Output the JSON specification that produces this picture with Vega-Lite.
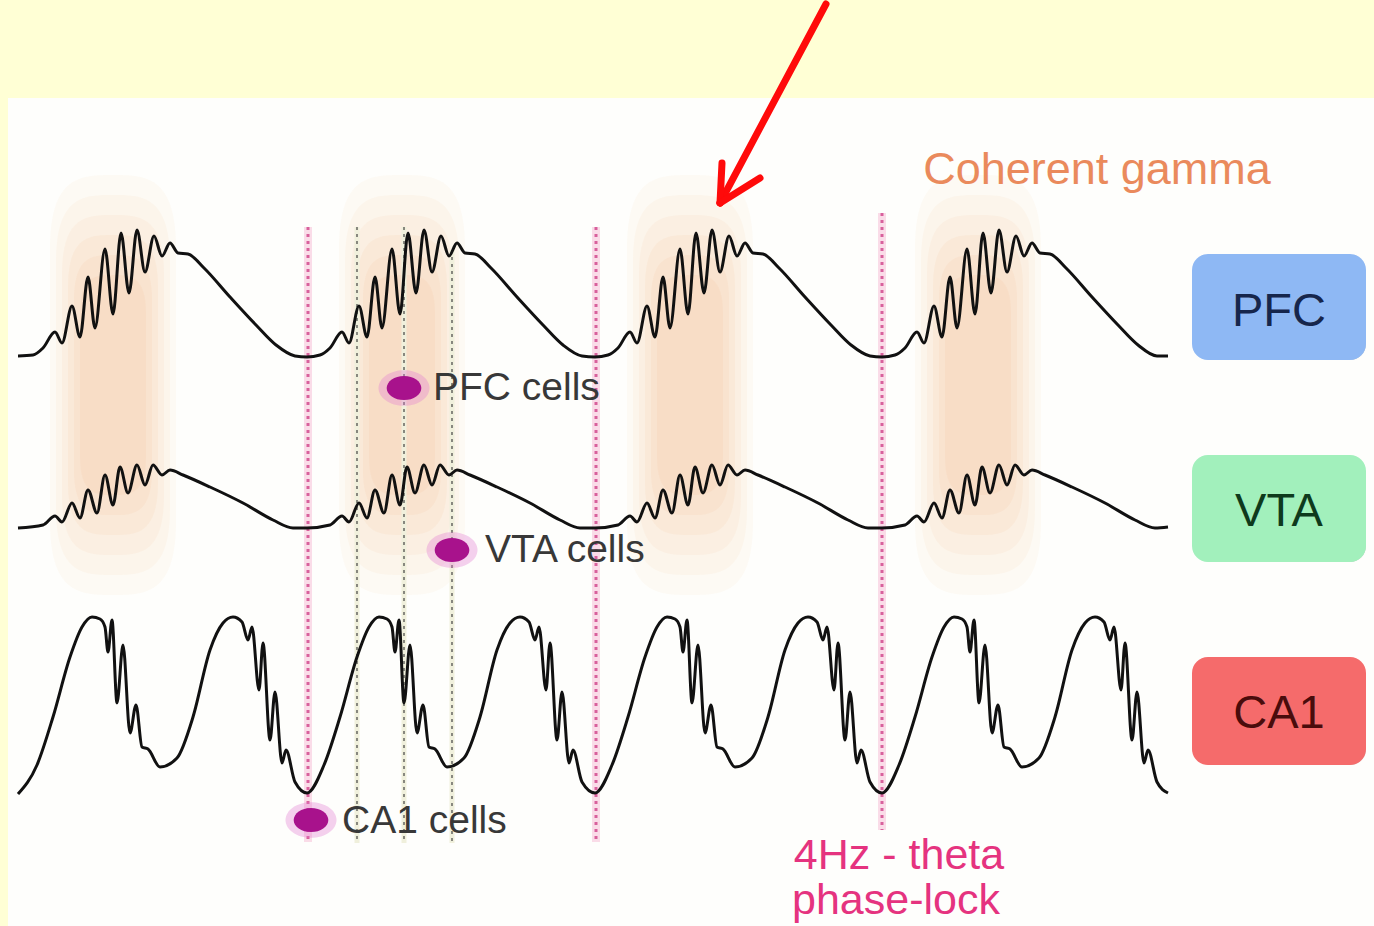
{
  "$schema": "https://vega.github.io/schema/vega-lite/v6.json",
  "width": 1374,
  "height": 926,
  "padding": 0,
  "autosize": {"type": "fit", "contains": "padding"},
  "background": "#FFFFD5",
  "config": {"view": {"stroke": null}},
  "datasets": {
    "panel": [{"x": 8, "x2": 1374, "y": 98, "y2": 926}],
    "blobs": [{"x": 113, "y": 385}, {"x": 402, "y": 385}, {"x": 690, "y": 385}, {"x": 978, "y": 385}],
    "pinklines": [{"x": 308, "y": 227, "y2": 842}, {"x": 596, "y": 227, "y2": 842}, {"x": 882, "y": 213, "y2": 830}],
    "graylines": [{"x": 357, "y": 227, "y2": 843}, {"x": 404, "y": 227, "y2": 843}, {"x": 452, "y": 250, "y2": 843}],
    "waves": [
      {"s": "PFC", "x": 18, "y": 356}, {"s": "PFC", "x": 33, "y": 355}, {"s": "PFC", "x": 43, "y": 348}, {"s": "PFC", "x": 55, "y": 332}, {"s": "PFC", "x": 62, "y": 343}, {"s": "PFC", "x": 72, "y": 306}, {"s": "PFC", "x": 80, "y": 337}, {"s": "PFC", "x": 88, "y": 277}, {"s": "PFC", "x": 95, "y": 328}, {"s": "PFC", "x": 105, "y": 249}, {"s": "PFC", "x": 113, "y": 314}, {"s": "PFC", "x": 121, "y": 233}, {"s": "PFC", "x": 129, "y": 293}, {"s": "PFC", "x": 137, "y": 230}, {"s": "PFC", "x": 145, "y": 272}, {"s": "PFC", "x": 154, "y": 236}, {"s": "PFC", "x": 162, "y": 256}, {"s": "PFC", "x": 170, "y": 243}, {"s": "PFC", "x": 178, "y": 253}, {"s": "PFC", "x": 188, "y": 254}, {"s": "PFC", "x": 204, "y": 268}, {"s": "PFC", "x": 230, "y": 297}, {"s": "PFC", "x": 256, "y": 325}, {"s": "PFC", "x": 276, "y": 345}, {"s": "PFC", "x": 295, "y": 356},
      {"s": "PFC", "x": 307, "y": 357}, {"s": "PFC", "x": 320, "y": 355}, {"s": "PFC", "x": 330, "y": 348}, {"s": "PFC", "x": 342, "y": 332}, {"s": "PFC", "x": 349, "y": 343}, {"s": "PFC", "x": 359, "y": 306}, {"s": "PFC", "x": 367, "y": 337}, {"s": "PFC", "x": 375, "y": 277}, {"s": "PFC", "x": 382, "y": 328}, {"s": "PFC", "x": 392, "y": 249}, {"s": "PFC", "x": 400, "y": 314}, {"s": "PFC", "x": 408, "y": 233}, {"s": "PFC", "x": 416, "y": 293}, {"s": "PFC", "x": 424, "y": 230}, {"s": "PFC", "x": 432, "y": 272}, {"s": "PFC", "x": 441, "y": 236}, {"s": "PFC", "x": 449, "y": 256}, {"s": "PFC", "x": 457, "y": 243}, {"s": "PFC", "x": 465, "y": 253}, {"s": "PFC", "x": 475, "y": 254}, {"s": "PFC", "x": 491, "y": 268}, {"s": "PFC", "x": 517, "y": 297}, {"s": "PFC", "x": 543, "y": 325}, {"s": "PFC", "x": 563, "y": 345}, {"s": "PFC", "x": 582, "y": 356},
      {"s": "PFC", "x": 595, "y": 357}, {"s": "PFC", "x": 608, "y": 355}, {"s": "PFC", "x": 618, "y": 348}, {"s": "PFC", "x": 630, "y": 332}, {"s": "PFC", "x": 637, "y": 343}, {"s": "PFC", "x": 647, "y": 306}, {"s": "PFC", "x": 655, "y": 337}, {"s": "PFC", "x": 663, "y": 277}, {"s": "PFC", "x": 670, "y": 328}, {"s": "PFC", "x": 680, "y": 249}, {"s": "PFC", "x": 688, "y": 314}, {"s": "PFC", "x": 696, "y": 233}, {"s": "PFC", "x": 704, "y": 293}, {"s": "PFC", "x": 712, "y": 230}, {"s": "PFC", "x": 720, "y": 272}, {"s": "PFC", "x": 729, "y": 236}, {"s": "PFC", "x": 737, "y": 256}, {"s": "PFC", "x": 745, "y": 243}, {"s": "PFC", "x": 753, "y": 253}, {"s": "PFC", "x": 763, "y": 254}, {"s": "PFC", "x": 779, "y": 268}, {"s": "PFC", "x": 805, "y": 297}, {"s": "PFC", "x": 831, "y": 325}, {"s": "PFC", "x": 851, "y": 345}, {"s": "PFC", "x": 870, "y": 356},
      {"s": "PFC", "x": 882, "y": 357}, {"s": "PFC", "x": 895, "y": 355}, {"s": "PFC", "x": 905, "y": 348}, {"s": "PFC", "x": 917, "y": 332}, {"s": "PFC", "x": 924, "y": 343}, {"s": "PFC", "x": 934, "y": 306}, {"s": "PFC", "x": 942, "y": 337}, {"s": "PFC", "x": 950, "y": 277}, {"s": "PFC", "x": 957, "y": 328}, {"s": "PFC", "x": 967, "y": 249}, {"s": "PFC", "x": 975, "y": 314}, {"s": "PFC", "x": 983, "y": 233}, {"s": "PFC", "x": 991, "y": 293}, {"s": "PFC", "x": 999, "y": 230}, {"s": "PFC", "x": 1007, "y": 272}, {"s": "PFC", "x": 1016, "y": 236}, {"s": "PFC", "x": 1024, "y": 256}, {"s": "PFC", "x": 1032, "y": 243}, {"s": "PFC", "x": 1040, "y": 253}, {"s": "PFC", "x": 1050, "y": 254}, {"s": "PFC", "x": 1066, "y": 268}, {"s": "PFC", "x": 1092, "y": 297}, {"s": "PFC", "x": 1118, "y": 325}, {"s": "PFC", "x": 1138, "y": 345}, {"s": "PFC", "x": 1157, "y": 356}, {"s": "PFC", "x": 1168, "y": 356},

      {"s": "VTA", "x": 18, "y": 528}, {"s": "VTA", "x": 43, "y": 525}, {"s": "VTA", "x": 55, "y": 516}, {"s": "VTA", "x": 62, "y": 522}, {"s": "VTA", "x": 72, "y": 503}, {"s": "VTA", "x": 80, "y": 518}, {"s": "VTA", "x": 88, "y": 490}, {"s": "VTA", "x": 97, "y": 513}, {"s": "VTA", "x": 105, "y": 475}, {"s": "VTA", "x": 113, "y": 505}, {"s": "VTA", "x": 120, "y": 467}, {"s": "VTA", "x": 128, "y": 493}, {"s": "VTA", "x": 137, "y": 465}, {"s": "VTA", "x": 145, "y": 485}, {"s": "VTA", "x": 153, "y": 465}, {"s": "VTA", "x": 162, "y": 475}, {"s": "VTA", "x": 170, "y": 470}, {"s": "VTA", "x": 183, "y": 475}, {"s": "VTA", "x": 210, "y": 487}, {"s": "VTA", "x": 243, "y": 503}, {"s": "VTA", "x": 273, "y": 520}, {"s": "VTA", "x": 293, "y": 528},
      {"s": "VTA", "x": 307, "y": 528}, {"s": "VTA", "x": 330, "y": 525}, {"s": "VTA", "x": 342, "y": 516}, {"s": "VTA", "x": 349, "y": 522}, {"s": "VTA", "x": 359, "y": 503}, {"s": "VTA", "x": 367, "y": 518}, {"s": "VTA", "x": 375, "y": 490}, {"s": "VTA", "x": 384, "y": 513}, {"s": "VTA", "x": 392, "y": 475}, {"s": "VTA", "x": 400, "y": 505}, {"s": "VTA", "x": 407, "y": 467}, {"s": "VTA", "x": 415, "y": 493}, {"s": "VTA", "x": 424, "y": 465}, {"s": "VTA", "x": 432, "y": 485}, {"s": "VTA", "x": 440, "y": 465}, {"s": "VTA", "x": 449, "y": 475}, {"s": "VTA", "x": 457, "y": 470}, {"s": "VTA", "x": 470, "y": 475}, {"s": "VTA", "x": 497, "y": 487}, {"s": "VTA", "x": 530, "y": 503}, {"s": "VTA", "x": 560, "y": 520}, {"s": "VTA", "x": 580, "y": 528},
      {"s": "VTA", "x": 595, "y": 528}, {"s": "VTA", "x": 618, "y": 525}, {"s": "VTA", "x": 630, "y": 516}, {"s": "VTA", "x": 637, "y": 522}, {"s": "VTA", "x": 647, "y": 503}, {"s": "VTA", "x": 655, "y": 518}, {"s": "VTA", "x": 663, "y": 490}, {"s": "VTA", "x": 672, "y": 513}, {"s": "VTA", "x": 680, "y": 475}, {"s": "VTA", "x": 688, "y": 505}, {"s": "VTA", "x": 695, "y": 467}, {"s": "VTA", "x": 703, "y": 493}, {"s": "VTA", "x": 712, "y": 465}, {"s": "VTA", "x": 720, "y": 485}, {"s": "VTA", "x": 728, "y": 465}, {"s": "VTA", "x": 737, "y": 475}, {"s": "VTA", "x": 745, "y": 470}, {"s": "VTA", "x": 758, "y": 475}, {"s": "VTA", "x": 785, "y": 487}, {"s": "VTA", "x": 818, "y": 503}, {"s": "VTA", "x": 848, "y": 520}, {"s": "VTA", "x": 868, "y": 528},
      {"s": "VTA", "x": 882, "y": 528}, {"s": "VTA", "x": 905, "y": 525}, {"s": "VTA", "x": 917, "y": 516}, {"s": "VTA", "x": 924, "y": 522}, {"s": "VTA", "x": 934, "y": 503}, {"s": "VTA", "x": 942, "y": 518}, {"s": "VTA", "x": 950, "y": 490}, {"s": "VTA", "x": 959, "y": 513}, {"s": "VTA", "x": 967, "y": 475}, {"s": "VTA", "x": 975, "y": 505}, {"s": "VTA", "x": 982, "y": 467}, {"s": "VTA", "x": 990, "y": 493}, {"s": "VTA", "x": 999, "y": 465}, {"s": "VTA", "x": 1007, "y": 485}, {"s": "VTA", "x": 1015, "y": 465}, {"s": "VTA", "x": 1024, "y": 475}, {"s": "VTA", "x": 1032, "y": 470}, {"s": "VTA", "x": 1045, "y": 475}, {"s": "VTA", "x": 1072, "y": 487}, {"s": "VTA", "x": 1105, "y": 503}, {"s": "VTA", "x": 1135, "y": 520}, {"s": "VTA", "x": 1155, "y": 528}, {"s": "VTA", "x": 1168, "y": 527},

      {"s": "CA1", "x": 18, "y": 794}, {"s": "CA1", "x": 37, "y": 765}, {"s": "CA1", "x": 53, "y": 717}, {"s": "CA1", "x": 70, "y": 657}, {"s": "CA1", "x": 82, "y": 627}, {"s": "CA1", "x": 92, "y": 617}, {"s": "CA1", "x": 100, "y": 619}, {"s": "CA1", "x": 105, "y": 627}, {"s": "CA1", "x": 108, "y": 652}, {"s": "CA1", "x": 112, "y": 620}, {"s": "CA1", "x": 117, "y": 703}, {"s": "CA1", "x": 123, "y": 645}, {"s": "CA1", "x": 130, "y": 733}, {"s": "CA1", "x": 136, "y": 705}, {"s": "CA1", "x": 142, "y": 747}, {"s": "CA1", "x": 148, "y": 749}, {"s": "CA1", "x": 160, "y": 767}, {"s": "CA1", "x": 177, "y": 758}, {"s": "CA1", "x": 193, "y": 717}, {"s": "CA1", "x": 210, "y": 650}, {"s": "CA1", "x": 223, "y": 623}, {"s": "CA1", "x": 233, "y": 617}, {"s": "CA1", "x": 242, "y": 622}, {"s": "CA1", "x": 248, "y": 640}, {"s": "CA1", "x": 252, "y": 627}, {"s": "CA1", "x": 259, "y": 690}, {"s": "CA1", "x": 263, "y": 643}, {"s": "CA1", "x": 270, "y": 740}, {"s": "CA1", "x": 275, "y": 692}, {"s": "CA1", "x": 282, "y": 763}, {"s": "CA1", "x": 286, "y": 750}, {"s": "CA1", "x": 295, "y": 782},
      {"s": "CA1", "x": 307, "y": 793}, {"s": "CA1", "x": 324, "y": 765}, {"s": "CA1", "x": 340, "y": 717}, {"s": "CA1", "x": 357, "y": 657}, {"s": "CA1", "x": 369, "y": 627}, {"s": "CA1", "x": 379, "y": 617}, {"s": "CA1", "x": 387, "y": 619}, {"s": "CA1", "x": 392, "y": 627}, {"s": "CA1", "x": 395, "y": 652}, {"s": "CA1", "x": 399, "y": 620}, {"s": "CA1", "x": 404, "y": 703}, {"s": "CA1", "x": 410, "y": 645}, {"s": "CA1", "x": 417, "y": 733}, {"s": "CA1", "x": 423, "y": 705}, {"s": "CA1", "x": 429, "y": 747}, {"s": "CA1", "x": 435, "y": 749}, {"s": "CA1", "x": 447, "y": 767}, {"s": "CA1", "x": 464, "y": 758}, {"s": "CA1", "x": 480, "y": 717}, {"s": "CA1", "x": 497, "y": 650}, {"s": "CA1", "x": 510, "y": 623}, {"s": "CA1", "x": 520, "y": 617}, {"s": "CA1", "x": 529, "y": 622}, {"s": "CA1", "x": 535, "y": 640}, {"s": "CA1", "x": 539, "y": 627}, {"s": "CA1", "x": 546, "y": 690}, {"s": "CA1", "x": 550, "y": 643}, {"s": "CA1", "x": 557, "y": 740}, {"s": "CA1", "x": 562, "y": 692}, {"s": "CA1", "x": 569, "y": 763}, {"s": "CA1", "x": 573, "y": 750}, {"s": "CA1", "x": 582, "y": 782},
      {"s": "CA1", "x": 595, "y": 793}, {"s": "CA1", "x": 612, "y": 765}, {"s": "CA1", "x": 628, "y": 717}, {"s": "CA1", "x": 645, "y": 657}, {"s": "CA1", "x": 657, "y": 627}, {"s": "CA1", "x": 667, "y": 617}, {"s": "CA1", "x": 675, "y": 619}, {"s": "CA1", "x": 680, "y": 627}, {"s": "CA1", "x": 683, "y": 652}, {"s": "CA1", "x": 687, "y": 620}, {"s": "CA1", "x": 692, "y": 703}, {"s": "CA1", "x": 698, "y": 645}, {"s": "CA1", "x": 705, "y": 733}, {"s": "CA1", "x": 711, "y": 705}, {"s": "CA1", "x": 717, "y": 747}, {"s": "CA1", "x": 723, "y": 749}, {"s": "CA1", "x": 735, "y": 767}, {"s": "CA1", "x": 752, "y": 758}, {"s": "CA1", "x": 768, "y": 717}, {"s": "CA1", "x": 785, "y": 650}, {"s": "CA1", "x": 798, "y": 623}, {"s": "CA1", "x": 808, "y": 617}, {"s": "CA1", "x": 817, "y": 622}, {"s": "CA1", "x": 823, "y": 640}, {"s": "CA1", "x": 827, "y": 627}, {"s": "CA1", "x": 834, "y": 690}, {"s": "CA1", "x": 838, "y": 643}, {"s": "CA1", "x": 845, "y": 740}, {"s": "CA1", "x": 850, "y": 692}, {"s": "CA1", "x": 857, "y": 763}, {"s": "CA1", "x": 861, "y": 750}, {"s": "CA1", "x": 870, "y": 782},
      {"s": "CA1", "x": 882, "y": 793}, {"s": "CA1", "x": 899, "y": 765}, {"s": "CA1", "x": 915, "y": 717}, {"s": "CA1", "x": 932, "y": 657}, {"s": "CA1", "x": 944, "y": 627}, {"s": "CA1", "x": 954, "y": 617}, {"s": "CA1", "x": 962, "y": 619}, {"s": "CA1", "x": 967, "y": 627}, {"s": "CA1", "x": 970, "y": 652}, {"s": "CA1", "x": 974, "y": 620}, {"s": "CA1", "x": 979, "y": 703}, {"s": "CA1", "x": 985, "y": 645}, {"s": "CA1", "x": 992, "y": 733}, {"s": "CA1", "x": 998, "y": 705}, {"s": "CA1", "x": 1004, "y": 747}, {"s": "CA1", "x": 1010, "y": 749}, {"s": "CA1", "x": 1022, "y": 767}, {"s": "CA1", "x": 1039, "y": 758}, {"s": "CA1", "x": 1055, "y": 717}, {"s": "CA1", "x": 1072, "y": 650}, {"s": "CA1", "x": 1085, "y": 623}, {"s": "CA1", "x": 1095, "y": 617}, {"s": "CA1", "x": 1104, "y": 622}, {"s": "CA1", "x": 1110, "y": 640}, {"s": "CA1", "x": 1114, "y": 627}, {"s": "CA1", "x": 1121, "y": 690}, {"s": "CA1", "x": 1125, "y": 643}, {"s": "CA1", "x": 1132, "y": 740}, {"s": "CA1", "x": 1137, "y": 692}, {"s": "CA1", "x": 1144, "y": 763}, {"s": "CA1", "x": 1148, "y": 750}, {"s": "CA1", "x": 1157, "y": 782}, {"s": "CA1", "x": 1168, "y": 793}
    ],
    "cells": [
      {"x": 404, "y": 388, "label": "PFC cells", "lx": 433, "ly": 400},
      {"x": 452, "y": 550, "label": "VTA cells", "lx": 485, "ly": 562},
      {"x": 311, "y": 820, "label": "CA1 cells", "lx": 342, "ly": 833}
    ],
    "boxes": [
      {"region": "PFC", "x": 1192, "x2": 1366, "y": 254, "y2": 360, "cy": 312},
      {"region": "VTA", "x": 1192, "x2": 1366, "y": 455, "y2": 562, "cy": 512},
      {"region": "CA1", "x": 1192, "x2": 1366, "y": 657, "y2": 765, "cy": 714}
    ],
    "arrow": [
      {"seg": "shaft", "x": 826, "y": 4}, {"seg": "shaft", "x": 720, "y": 203},
      {"seg": "left", "x": 722, "y": 163}, {"seg": "left", "x": 720, "y": 203},
      {"seg": "right", "x": 760, "y": 178}, {"seg": "right", "x": 720, "y": 203}
    ]
  },
  "encoding": {
    "x": {"field": "x", "type": "quantitative", "scale": {"domain": [0, 1374], "nice": false, "zero": false}, "axis": null},
    "y": {"field": "y", "type": "quantitative", "scale": {"domain": [0, 926], "nice": false, "zero": false, "reverse": true}, "axis": null}
  },
  "layer": [
    {
      "data": {"name": "panel"},
      "mark": {"type": "rect", "fill": "#FEFEFC"},
      "encoding": {"x2": {"field": "x2"}, "y2": {"field": "y2"}}
    },
    {
      "data": {"name": "blobs"},
      "mark": {"type": "point", "filled": true, "shape": "M -0.3 -0.65 C -0.3 -1 -0.15 -1 0 -1 C 0.15 -1 0.3 -1 0.3 -0.65 L 0.3 0.65 C 0.3 1 0.15 1 0 1 C -0.15 1 -0.3 1 -0.3 0.65 Z", "size": 176400, "color": "#F3B47C", "opacity": 0.06}
    },
    {
      "data": {"name": "blobs"},
      "mark": {"type": "point", "filled": true, "shape": "M -0.3 -0.65 C -0.3 -1 -0.15 -1 0 -1 C 0.15 -1 0.3 -1 0.3 -0.65 L 0.3 0.65 C 0.3 1 0.15 1 0 1 C -0.15 1 -0.3 1 -0.3 0.65 Z", "size": 144400, "color": "#F3B47C", "opacity": 0.07}
    },
    {
      "data": {"name": "blobs"},
      "mark": {"type": "point", "filled": true, "shape": "M -0.3 -0.65 C -0.3 -1 -0.15 -1 0 -1 C 0.15 -1 0.3 -1 0.3 -0.65 L 0.3 0.65 C 0.3 1 0.15 1 0 1 C -0.15 1 -0.3 1 -0.3 0.65 Z", "size": 115600, "color": "#F3B47C", "opacity": 0.08}
    },
    {
      "data": {"name": "blobs"},
      "mark": {"type": "point", "filled": true, "shape": "M -0.3 -0.65 C -0.3 -1 -0.15 -1 0 -1 C 0.15 -1 0.3 -1 0.3 -0.65 L 0.3 0.65 C 0.3 1 0.15 1 0 1 C -0.15 1 -0.3 1 -0.3 0.65 Z", "size": 90000, "color": "#F3B47C", "opacity": 0.09}
    },
    {
      "data": {"name": "blobs"},
      "mark": {"type": "point", "filled": true, "shape": "M -0.3 -0.65 C -0.3 -1 -0.15 -1 0 -1 C 0.15 -1 0.3 -1 0.3 -0.65 L 0.3 0.65 C 0.3 1 0.15 1 0 1 C -0.15 1 -0.3 1 -0.3 0.65 Z", "size": 67600, "color": "#F3B47C", "opacity": 0.1}
    },
    {
      "data": {"name": "blobs"},
      "mark": {"type": "point", "filled": true, "shape": "M -0.3 -0.65 C -0.3 -1 -0.15 -1 0 -1 C 0.15 -1 0.3 -1 0.3 -0.65 L 0.3 0.65 C 0.3 1 0.15 1 0 1 C -0.15 1 -0.3 1 -0.3 0.65 Z", "size": 48400, "color": "#F3B47C", "opacity": 0.1}
    },
    {
      "data": {"name": "pinklines"},
      "mark": {"type": "rule", "color": "#FADCE8", "strokeWidth": 8},
      "encoding": {"y2": {"field": "y2"}}
    },
    {
      "data": {"name": "pinklines"},
      "mark": {"type": "rule", "color": "#D8609C", "strokeWidth": 3, "strokeDash": [3, 4]},
      "encoding": {"y2": {"field": "y2"}}
    },
    {
      "data": {"name": "graylines"},
      "mark": {"type": "rule", "color": "#F0F0DC", "strokeWidth": 5},
      "encoding": {"y2": {"field": "y2"}}
    },
    {
      "data": {"name": "graylines"},
      "mark": {"type": "rule", "color": "#6E6E68", "strokeWidth": 1.6, "strokeDash": [3, 4]},
      "encoding": {"y2": {"field": "y2"}}
    },
    {
      "data": {"name": "waves"},
      "mark": {"type": "line", "color": "#111111", "strokeWidth": 3, "interpolate": "monotone"},
      "encoding": {"detail": {"field": "s"}}
    },
    {
      "data": {"name": "cells"},
      "mark": {"type": "point", "filled": true, "shape": "M -1 0 A 1 0.7 0 1 1 1 0 A 1 0.7 0 1 1 -1 0 Z", "size": 2600, "color": "#E27AD2", "opacity": 0.35}
    },
    {
      "data": {"name": "cells"},
      "mark": {"type": "point", "filled": true, "shape": "M -1 0 A 1 0.7 0 1 1 1 0 A 1 0.7 0 1 1 -1 0 Z", "size": 1200, "color": "#A8128C", "opacity": 1}
    },
    {
      "data": {"name": "cells"},
      "mark": {"type": "text", "align": "left", "baseline": "alphabetic", "font": "Liberation Sans", "fontSize": 39, "color": "#383838"},
      "encoding": {"x": {"field": "lx", "type": "quantitative"}, "y": {"field": "ly", "type": "quantitative"}, "text": {"field": "label"}}
    },
    {
      "data": {"values": [{"x": 1097, "y": 184, "t": "Coherent gamma"}]},
      "mark": {"type": "text", "align": "center", "baseline": "alphabetic", "font": "Liberation Sans", "fontSize": 45, "color": "#EA8A5C"},
      "encoding": {"text": {"field": "t"}}
    },
    {
      "data": {"values": [{"x": 899, "y": 869, "t": "4Hz - theta"}, {"x": 896, "y": 914, "t": "phase-lock"}]},
      "mark": {"type": "text", "align": "center", "baseline": "alphabetic", "font": "Liberation Sans", "fontSize": 43, "color": "#E5337F"},
      "encoding": {"text": {"field": "t"}}
    },
    {
      "data": {"name": "boxes"},
      "mark": {"type": "rect", "cornerRadius": 16, "color": "#9A9A9A", "opacity": 0.25, "xOffset": 5, "yOffset": 9},
      "encoding": {"x2": {"field": "x2"}, "y2": {"field": "y2"}}
    },
    {
      "data": {"name": "boxes"},
      "mark": {"type": "rect", "cornerRadius": 16, "color": "#9A9A9A", "opacity": 0.3, "xOffset": 3, "yOffset": 5},
      "encoding": {"x2": {"field": "x2"}, "y2": {"field": "y2"}}
    },
    {
      "data": {"name": "boxes"},
      "mark": {"type": "rect", "cornerRadius": 16, "opacity": 1},
      "encoding": {
        "x2": {"field": "x2"}, "y2": {"field": "y2"},
        "color": {"field": "region", "type": "nominal", "legend": null, "scale": {"domain": ["PFC", "VTA", "CA1"], "range": ["#8EB8F4", "#A2F0BC", "#F56B6B"]}}
      }
    },
    {
      "data": {"name": "boxes"},
      "mark": {"type": "text", "align": "center", "baseline": "middle", "font": "Liberation Sans", "fontSize": 47},
      "encoding": {
        "x": {"datum": 1279},
        "y": {"field": "cy", "type": "quantitative"},
        "text": {"field": "region"},
        "color": {"field": "region", "type": "nominal", "legend": null, "scale": {"domain": ["PFC", "VTA", "CA1"], "range": ["#16264C", "#0E3A1C", "#4A0C0C"]}}
      }
    },
    {
      "data": {"name": "arrow"},
      "mark": {"type": "line", "color": "#FF0A0A", "strokeWidth": 7, "strokeCap": "round", "strokeJoin": "round"},
      "encoding": {"detail": {"field": "seg"}}
    }
  ],
  "resolve": {"scale": {"color": "independent"}}
}
